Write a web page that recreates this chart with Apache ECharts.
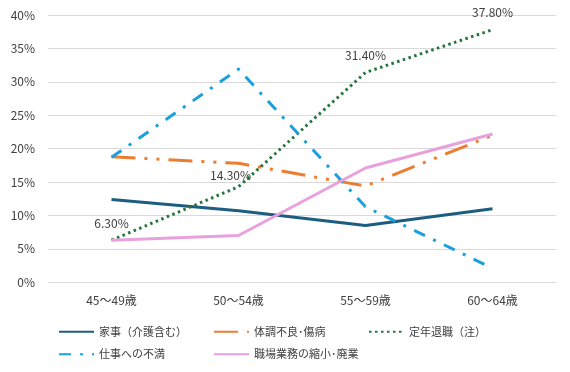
<!DOCTYPE html>
<html>
<head>
<meta charset="utf-8">
<script src="https://cdn.jsdelivr.net/npm/echarts@6/dist/echarts.min.js"></script>
<style>html,body{margin:0;padding:0;background:#fff}#c{width:570px;height:372px}</style>
</head>
<body>
<div id="c"></div>
<script>
const categories = ['45～49歳', '50～54歳', '55～59歳', '60～64歳'];
const yTicks = [0, 5, 10, 15, 20, 25, 30, 35, 40];
const kaji = [12.4, 10.7, 8.5, 11.0];
const taicho = [18.8, 17.8, 14.4, 22.0];
const teinen = [6.3, 14.3, 31.4, 37.8];
const fuman = [18.7, 31.9, 11.3, 2.1];
const shukusho = [6.3, 7.0, 17.1, 22.2];
const names = ['家事（介護含む）', '体調不良･傷病', '定年退職（注）', '仕事への不満', '職場業務の縮小･廃業'];

const FONT = '"Noto Sans CJK JP", "Noto Sans", sans-serif';
const TXT = '#404040';
const chart = echarts.init(document.getElementById('c'), null, {renderer: 'canvas'});

function lineSeries(name, data, color, dash, extra) {
  return Object.assign({
    name: name,
    type: 'line',
    data: data,
    symbol: 'none',
    smooth: false,
    lineStyle: {color: color, width: 3, type: dash, cap: 'butt', join: 'round'},
    itemStyle: {color: color},
    emphasis: {disabled: true},
    animation: false
  }, extra || {});
}

const teinenData = teinen.map((v, i) => ({
  value: v,
  label: {offset: i === 1 ? [-8, 6] : [0, 0]}
}));

const legendCommon = {
  orient: 'horizontal',
  padding: 0,
  itemGap: 0,
  itemWidth: 35,
  itemHeight: 14,
  itemStyle: {opacity: 0},
  textStyle: {fontFamily: FONT, fontSize: 11, color: TXT, width: 114, lineHeight: 14},
  selectedMode: false
};

chart.setOption({
  backgroundColor: '#ffffff',
  animation: false,
  grid: {left: 48, right: 14, top: 15, bottom: 89.7},
  legend: [
    Object.assign({}, legendCommon, {left: 58, top: 324.7, data: [names[0], names[1], names[2]]}),
    Object.assign({}, legendCommon, {left: 58, top: 347.3, data: [names[3], names[4]]})
  ],
  xAxis: {
    type: 'category',
    data: categories,
    boundaryGap: true,
    axisLine: {show: false},
    axisTick: {show: false},
    axisLabel: {fontFamily: FONT, fontSize: 12, color: TXT, margin: 12}
  },
  yAxis: {
    type: 'value',
    min: yTicks[0],
    max: yTicks[yTicks.length - 1],
    interval: yTicks[1] - yTicks[0],
    axisLine: {show: false},
    axisTick: {show: false},
    splitLine: {lineStyle: {color: '#D9D9D9', width: 1}},
    axisLabel: {fontFamily: FONT, fontSize: 12, color: TXT, margin: 13, formatter: '{value}%'}
  },
  series: [
    lineSeries(names[0], kaji, '#1D5E80', 'solid'),
    lineSeries(names[1], taicho, '#ED7D31', [24, 9, 3, 9, 3, 9]),
    lineSeries(names[2], teinenData, '#23753A', [2.5, 3.5], {
      symbol: 'circle',
      showSymbol: true,
      symbolSize: 0,
      label: {
        show: true,
        position: 'top',
        distance: 11,
        fontFamily: FONT,
        fontSize: 12,
        color: TXT,
        formatter: p => p.value.toFixed(2) + '%'
      }
    }),
    lineSeries(names[3], fuman, '#1AA0DC', [12, 9, 3, 9]),
    lineSeries(names[4], shukusho, '#E8A1DD', 'solid')
  ]
});
</script>
</body>
</html>
